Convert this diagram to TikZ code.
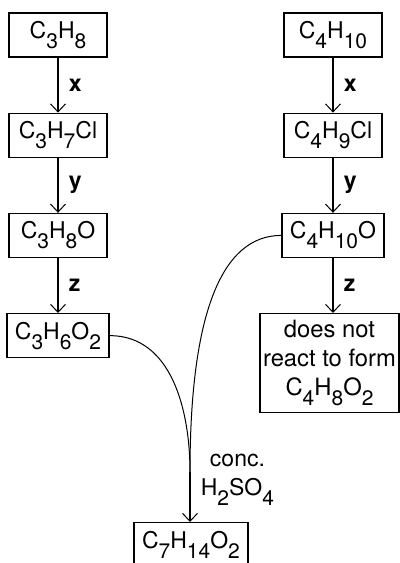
\documentclass[tikz,border=0pt]{standalone}
\usepackage{fontspec}
\setmainfont{TeX Gyre Heros}
\usetikzlibrary{arrows.meta,positioning}

\newcommand{\chsub}[1]{\raisebox{-5pt}{\fontsize{10.5}{10.5}\selectfont #1}}

\begin{document}
\begin{tikzpicture}[
    x = 0.5pt, y = -0.5pt, % pixel grid, y going down
    > = {Straight Barb[length=4pt,width=7.5pt,line width=0.5pt]}, % open arrow head
    auto,
    node distance = 27.5pt, % gap between boxes
    font = \fontsize{11.5}{14.5}\selectfont
    ]

    \tikzset{box/.style={
    draw = black,
    line width = 0.6pt,
    minimum width = 49pt,
    minimum height = 22pt,
    inner xsep = 4pt,
    align = center
    }}
    \tikzset{reagent/.style={font=\fontsize{11.5}{14.5}\selectfont\bfseries, inner sep=5pt}}
    \tikzset{stepline/.style={->, line width=0.85pt}}

    \useasboundingbox (0,0) rectangle (400,563);

    % propane route
    \node[box] (c3h8) at (58,35) {C\chsub{3}H\chsub{8}};
    \node[box] (c3h7cl) [below=of c3h8] {C\chsub{3}H\chsub{7}Cl};
    \node[box] (c3h8o) [below=of c3h7cl] {C\chsub{3}H\chsub{8}O};
    \node[box] (c3h6o2) [below=of c3h8o] {C\chsub{3}H\chsub{6}O\chsub{2}};

    % butane route
    \node[box] (c4h10) at (333,35) {C\chsub{4}H\chsub{10}};
    \node[box] (c4h9cl) [below=of c4h10] {C\chsub{4}H\chsub{9}Cl};
    \node[box] (c4h10o) [below=of c4h9cl] {C\chsub{4}H\chsub{10}O};
    \node[box, minimum width=69pt, minimum height=49.5pt, inner xsep=1.5pt, xshift=-1.75pt,
        font=\fontsize{11.9}{14.5}\selectfont]
        (noreact) [below=of c4h10o] {does not\\react to form\\C\chsub{4}H\chsub{8}O\chsub{2}};

    % ester
    \node[box, anchor=north] (c7h14o2) at (191,522) {C\chsub{7}H\chsub{14}O\chsub{2}};
    \coordinate (merge) at (190,472);

    \path[stepline] (c3h8) edge node[reagent]{x} (c3h7cl);
    \path[stepline] (c3h7cl) edge node[reagent]{y} (c3h8o);
    \path[stepline] (c3h8o) edge node[reagent]{z} (c3h6o2);
    \path[stepline] (c4h10) edge node[reagent]{x} (c4h9cl);
    \path[stepline] (c4h9cl) edge node[reagent]{y} (c4h10o);
    \path[stepline] (c4h10o.south) edge node[reagent]{z} (c4h10o.south |- noreact.north);

    \draw[line width=0.5pt] (c3h6o2.east) to[out=0,in=90] (merge);
    \draw[line width=0.5pt] (c4h10o.west) to[out=180,in=90,out looseness=0.6,in looseness=1.6] (merge);
    \draw[stepline] (merge) -- node[pos=0.15, align=center, inner sep=5pt]{conc.\\H\chsub{2}SO\chsub{4}} (merge |- c7h14o2.north);
\end{tikzpicture}
\end{document}
